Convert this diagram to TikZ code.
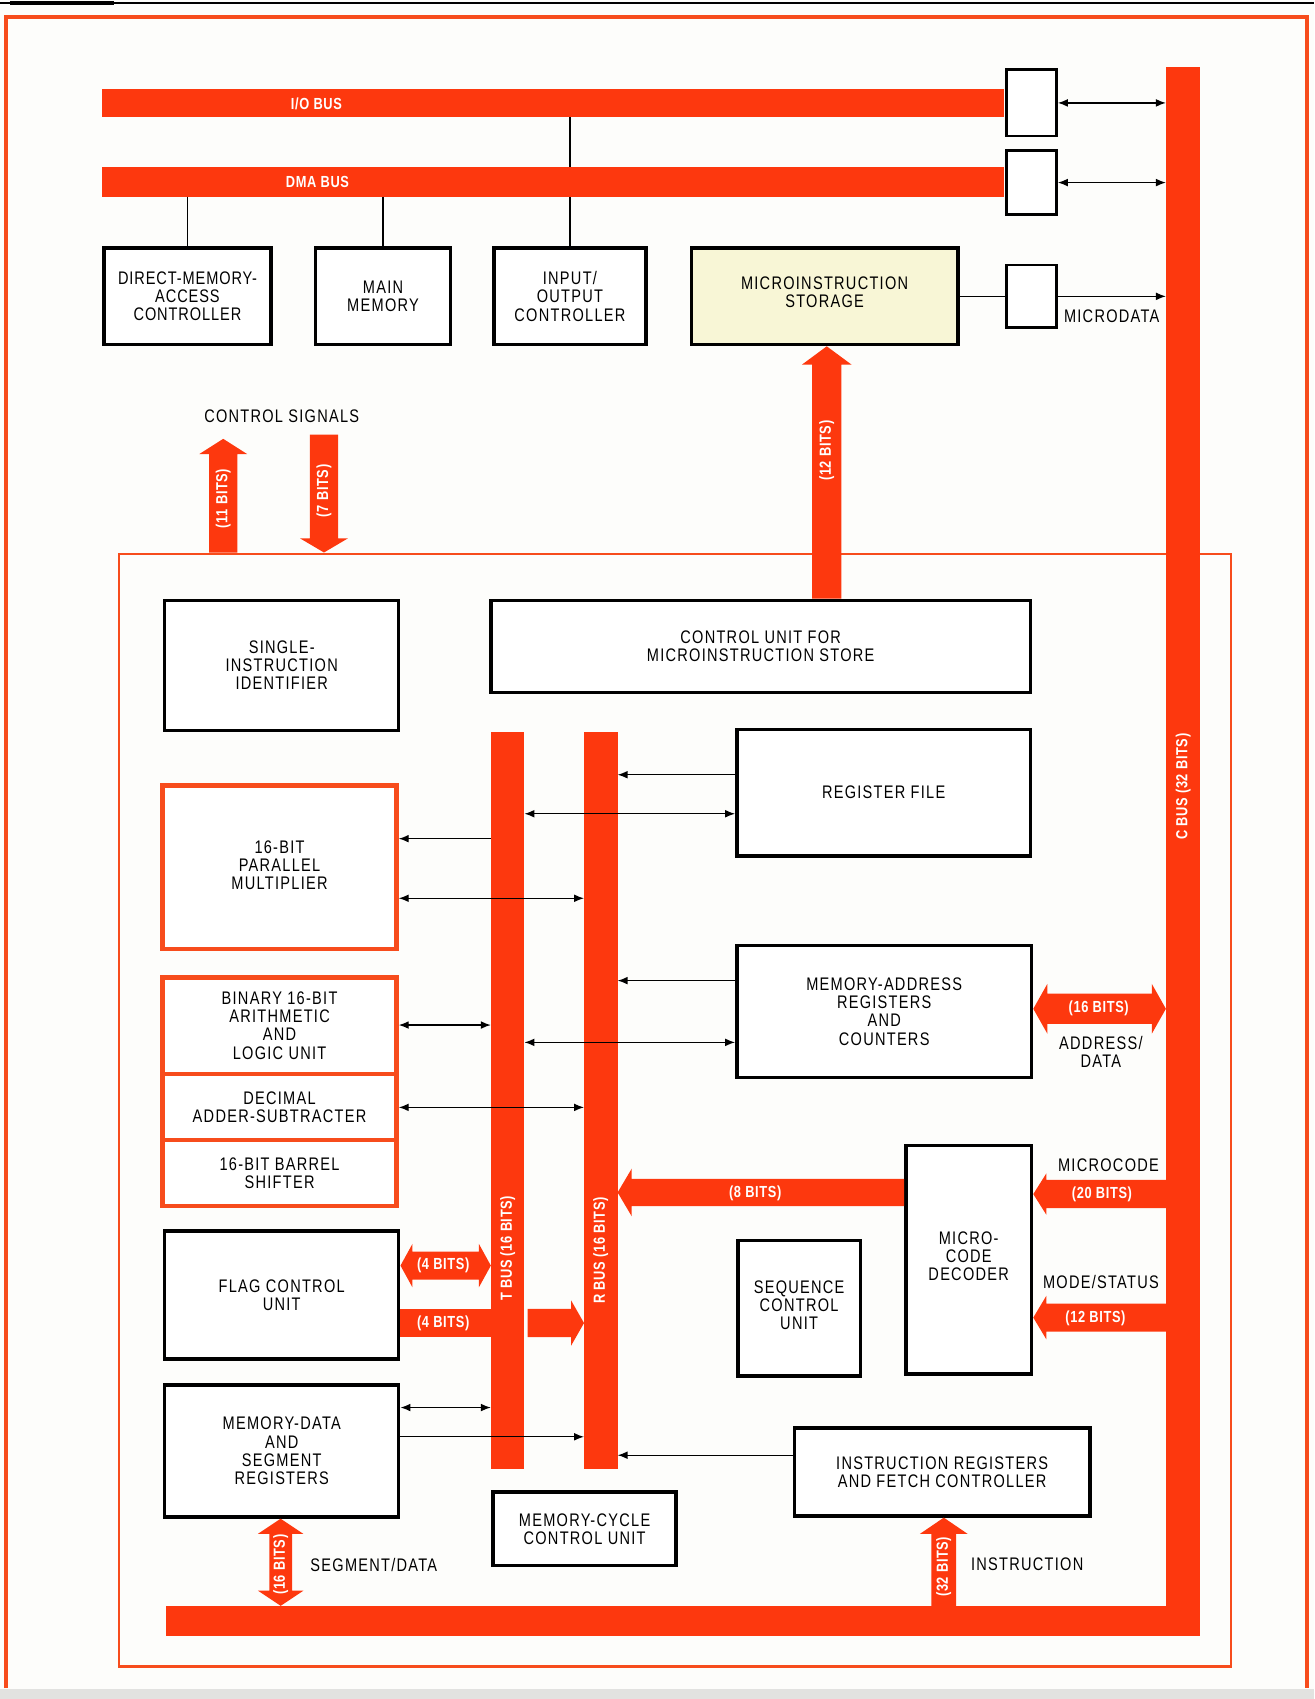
\documentclass[tikz,border=0pt]{standalone}
\usepackage{fontspec}
\setmainfont{Liberation Sans}[FakeStretch=0.8,LetterSpace=7]
\newfontfamily\labelfam{Liberation Sans}[FakeStretch=0.8,LetterSpace=4]
\usetikzlibrary{calc,arrows.meta}
\pgfdeclarelayer{paperlayer}
\pgfdeclarelayer{underlayer}
\pgfsetlayers{paperlayer,underlayer,main}

\definecolor{busred}{RGB}{253,56,14}
\definecolor{framered}{RGB}{247,76,28}
\definecolor{storefill}{RGB}{248,246,214}
\definecolor{paper}{RGB}{253,253,251}
\definecolor{edgegray}{RGB}{226,226,224}

\newcommand{\boxfont}{\fontsize{8.4}{8.4}\selectfont}
\newcommand{\lblfont}{\labelfam\bfseries\fontsize{7.4}{7.4}\selectfont}

% wide bus arrows, all sizes in picture units
% #1 start, #2 tip, #3 shaft half width, #4 head half width, #5 head length (sign gives direction)
\newcommand{\fatarrowH}[5]{\fill[busred] (#2) -- ($(#2)+(#5,-#4)$) -- ($(#2)+(#5,-#3)$) -- ($(#1)+(0,-#3)$) -- ($(#1)+(0,#3)$) -- ($(#2)+(#5,#3)$) -- ($(#2)+(#5,#4)$) -- cycle;}
\newcommand{\fatarrowV}[5]{\fill[busred] (#2) -- ($(#2)+(-#4,#5)$) -- ($(#2)+(-#3,#5)$) -- ($(#1)+(-#3,0)$) -- ($(#1)+(#3,0)$) -- ($(#2)+(#3,#5)$) -- ($(#2)+(#4,#5)$) -- cycle;}
% double-headed: #1 left/top tip, #2 right/bottom tip
\newcommand{\fatdoubleH}[5]{\fill[busred] (#1) -- ($(#1)+(#5,-#4)$) -- ($(#1)+(#5,-#3)$) -- ($(#2)+(-#5,-#3)$) -- ($(#2)+(-#5,-#4)$) -- (#2) -- ($(#2)+(-#5,#4)$) -- ($(#2)+(-#5,#3)$) -- ($(#1)+(#5,#3)$) -- ($(#1)+(#5,#4)$) -- cycle;}
\newcommand{\fatdoubleV}[5]{\fill[busred] (#1) -- ($(#1)+(-#4,#5)$) -- ($(#1)+(-#3,#5)$) -- ($(#2)+(-#3,-#5)$) -- ($(#2)+(-#4,-#5)$) -- (#2) -- ($(#2)+(#4,-#5)$) -- ($(#2)+(#3,-#5)$) -- ($(#1)+(#3,#5)$) -- ($(#1)+(#4,#5)$) -- cycle;}

\tikzset{tipa/.tip={Latex[length=4.6pt,width=3.6pt]}}

\begin{document}
\begin{tikzpicture}[x=0.5pt,y=-0.5pt,
  blk/.style={draw=black,line width=1.6pt,fill=white,align=center,inner sep=0pt,font=\boxfont},
  smallblk/.style={blk,line width=1.3pt},
  redbox/.style={blk,draw=framered,line width=2pt},
  bar/.style={fill=busred,inner sep=0pt,outer sep=0pt},
  wire/.style={line width=0.6pt,draw=black},
  lbl/.style={text=white,font=\lblfont,inner sep=0pt},
  note/.style={font=\boxfont,inner sep=0pt,align=center}]

\begin{pgfonlayer}{paperlayer}
  \fill[paper] (0,0) rectangle (1213,1568);
\end{pgfonlayer}
\useasboundingbox (0,0) rectangle (1213,1568);

% page rule and outer frame
\draw[line width=1.1pt] (0,3) -- (1213,3);
\draw[line width=1.8pt] (9,3) -- (105,3);
\draw[framered,line width=1.7pt] (5.5,1558) -- (5.5,16) -- (1206.5,16) -- (1206.5,1558);
\fill[edgegray] (0,1559) rectangle (1213,1568);

% processor frame
\node[draw=framered,line width=1.1pt,minimum width=513pt,minimum height=513.5pt,inner sep=0pt] (cpu) at (623,1024.5) {};

% level coordinates
\coordinate (y715) at (0,715);
\coordinate (y751) at (0,751);
\coordinate (y774) at (0,774);
\coordinate (y829) at (0,829);
\coordinate (y905) at (0,905);
\coordinate (y931) at (0,931);
\coordinate (y946) at (0,946);
\coordinate (y962) at (0,962);
\coordinate (y1022) at (0,1022);
\coordinate (y1100) at (0,1100.5);
\coordinate (y1102) at (0,1102);
\coordinate (y1168) at (0,1168);
\coordinate (y1216) at (0,1216);
\coordinate (y1221) at (0,1221);
\coordinate (y1299) at (0,1299);
\coordinate (y1326) at (0,1326);
\coordinate (y1343) at (0,1343);
\coordinate (x259) at (259,0);
\coordinate (x763) at (763,0);
\coordinate (x871) at (871,0);
\coordinate (sig11) at (206,405);
\coordinate (sig7) at (299,401);

% buses
\node[bar,minimum width=416.5pt,minimum height=13pt] (iobus) at (510.5,95) {};
\node[bar,minimum width=416.5pt,minimum height=13.5pt] (dmabus) at (510.5,168) {};
\node[bar,minimum width=15.5pt,minimum height=724pt] (cbus) at (1091.5,786) {};
\node[bar,minimum width=477pt,minimum height=14pt] (botbus) at (630,1496) {};
\node[bar,minimum width=15.5pt,minimum height=340pt] (tbus) at (468.5,1016) {};
\node[bar,minimum width=15.5pt,minimum height=340pt] (rbus) at (554.5,1016) {};

% blocks
\node[blk,minimum width=77pt,minimum height=44.5pt,font=\boxfont\addfontfeature{LetterSpace=5}] (dmac) at (173,273.5) {DIRECT-MEMORY-\\ACCESS\\CONTROLLER};
\node[blk,minimum width=62.5pt,minimum height=44.5pt] (mainmem) at (353.5,273.5) {MAIN\\MEMORY};
\node[blk,minimum width=70pt,minimum height=44.5pt] (ioc) at (526,273.5) {INPUT/\\OUTPUT\\CONTROLLER};
\node[blk,fill=storefill,minimum width=123pt,minimum height=44.5pt] (mstore) at (761,273.5) {MICROINSTRUCTION\\STORAGE\\[-4.4pt]};
\node[smallblk,minimum width=23pt,minimum height=30.5pt] (g1) at (952,95) {};
\node[smallblk,minimum width=23pt,minimum height=29.5pt] (g2) at (952,168.5) {};
\node[smallblk,minimum width=23pt,minimum height=29pt] (g3) at (952,273.5) {};

% wide arrows
\coordinate (a11s) at (cpu.north -| sig11);
\fatarrowV{a11s}{sig11}{13}{22}{14}
\coordinate (a7t) at (cpu.north -| sig7);
\fatarrowV{sig7}{a7t}{13}{22}{-13}

\node[blk,minimum width=108pt,minimum height=60pt] (single) at (260,614) {SINGLE-\\INSTRUCTION\\IDENTIFIER};
\node[blk,minimum width=249pt,minimum height=42.5pt] (ctrlu) at (702,596.5) {CONTROL UNIT FOR\\MICROINSTRUCTION STORE};
\node[blk,minimum width=135.5pt,minimum height=58.5pt] (regfile) at (815.5,731.5) {REGISTER FILE};
\node[redbox,minimum width=108pt,minimum height=75.5pt] (mult) at (258,800.5) {16-BIT\\PARALLEL\\MULTIPLIER\\[-6.4pt]};
\node[blk,minimum width=136pt,minimum height=61pt] (mar) at (816,933.5) {MEMORY-ADDRESS\\REGISTERS\\AND\\COUNTERS};
\node[redbox,minimum width=108pt,minimum height=44.5pt] (alu) at (258,946.5) {BINARY 16-BIT\\ARITHMETIC\\AND\\LOGIC UNIT};
\node[redbox,minimum width=108pt,minimum height=30.5pt] (dec) at (258,1021.5) {DECIMAL\\ADDER-SUBTRACTER};
\node[redbox,minimum width=108pt,minimum height=30.5pt] (shift) at (258,1082.5) {16-BIT BARREL\\SHIFTER};
\node[blk,minimum width=58pt,minimum height=105.5pt] (decoder) at (894,1162.5) {MICRO-\\CODE\\DECODER\\[-5.4pt]};
\node[blk,minimum width=56.5pt,minimum height=62.5pt] (seq) at (737.5,1207.5) {SEQUENCE\\CONTROL\\UNIT\\[-5.4pt]};
\node[blk,minimum width=108pt,minimum height=59pt] (flag) at (260,1195) {FLAG CONTROL\\UNIT};
\node[blk,minimum width=108pt,minimum height=61pt] (mdata) at (260,1339) {MEMORY-DATA\\AND\\SEGMENT\\REGISTERS};
\node[blk,minimum width=84.5pt,minimum height=34pt] (mcycle) at (539.5,1411) {MEMORY-CYCLE\\CONTROL UNIT};
\node[blk,minimum width=136.5pt,minimum height=40.5pt] (ifetch) at (869.5,1358.5) {INSTRUCTION REGISTERS\\AND FETCH CONTROLLER};

% wide arrows between blocks and buses
\coordinate (a12s) at (ctrlu.north -| x763);
\coordinate (a12t) at (mstore.south -| x763);
\fatarrowV{a12s}{a12t}{13.5}{23}{17}
\coordinate (m16a) at (mar.east |- y931);
\coordinate (m16b) at (cbus.west |- y931);
\fatdoubleH{m16a}{m16b}{14}{23}{13}
\coordinate (b8s) at (decoder.west |- y1100);
\coordinate (b8t) at (rbus.east |- y1100);
\fatarrowH{b8s}{b8t}{12.5}{22}{13}
\coordinate (b20s) at (cbus.west |- y1102);
\coordinate (b20t) at (decoder.east |- y1102);
\fatarrowH{b20s}{b20t}{13}{19}{12}
\coordinate (b12s) at (cbus.west |- y1216);
\coordinate (b12t) at (decoder.east |- y1216);
\fatarrowH{b12s}{b12t}{13}{20}{12}
\coordinate (f4a) at (flag.east |- y1168);
\coordinate (f4b) at (tbus.west |- y1168);
\fatdoubleH{f4a}{f4b}{13}{20}{11}
\coordinate (f4c) at (flag.east |- y1221);
\coordinate (f4d) at (tbus.west |- y1221);
\fill[busred] ($(f4c)+(0,-13)$) rectangle ($(f4d)+(0,13)$);
\coordinate (f4e) at ($(tbus.east |- y1221)+(3,0)$);
\coordinate (f4f) at (rbus.west |- y1221);
\fatarrowH{f4e}{f4f}{13}{21}{-12}
\coordinate (s16a) at (mdata.south -| x259);
\coordinate (s16b) at (botbus.north -| x259);
\fatdoubleV{s16a}{s16b}{10.5}{21}{14}
\coordinate (i32s) at (botbus.north -| x871);
\coordinate (i32t) at (ifetch.south -| x871);
\fatarrowV{i32s}{i32t}{11.5}{22}{15}

% thin connections
\begin{pgfonlayer}{underlayer}
  \draw[wire] (iobus.south -| ioc.north) -- (ioc.north);
\end{pgfonlayer}
\draw[wire] (dmabus.south -| dmac.north) -- (dmac.north);
\draw[wire] (dmabus.south -| mainmem.north) -- (mainmem.north);
\draw[wire,tipa-tipa] (g1.east) -- (g1.east -| cbus.west);
\draw[wire,tipa-tipa] (g2.east) -- (g2.east -| cbus.west);
\draw[wire] (mstore.east) -- (g3.west);
\draw[wire,-tipa] (g3.east) -- (g3.east -| cbus.west);
\draw[wire,-tipa] (regfile.west |- y715) -- (rbus.east |- y715);
\draw[wire,tipa-tipa] (tbus.east |- y751) -- (regfile.west |- y751);
\draw[wire,-tipa] (tbus.west |- y774) -- (mult.east |- y774);
\draw[wire,tipa-tipa] (mult.east |- y829) -- (rbus.west |- y829);
\draw[wire,tipa-tipa] (alu.east |- y946) -- (tbus.west |- y946);
\draw[wire,-tipa] (mar.west |- y905) -- (rbus.east |- y905);
\draw[wire,tipa-tipa] (tbus.east |- y962) -- (mar.west |- y962);
\draw[wire,tipa-tipa] (dec.east |- y1022) -- (rbus.west |- y1022);
\draw[wire,tipa-tipa] (mdata.east |- y1299) -- (tbus.west |- y1299);
\draw[wire,-tipa] (mdata.east |- y1326) -- (rbus.west |- y1326);
\draw[wire,-tipa] (ifetch.west |- y1343) -- (rbus.east |- y1343);

% bus and width labels
\node[lbl] (lio) at (292,96) {I/O BUS};
\node[lbl] (ldma) at (293,168) {DMA BUS};
\node[lbl,rotate=90] (lc) at (1092,726) {C BUS (32 BITS)};
\node[lbl,rotate=90] (lt) at (468.5,1152) {T BUS (16 BITS)};
\node[lbl,rotate=90] (lr) at (554.5,1154) {R BUS (16 BITS)};
\node[lbl,rotate=90] (l11) at (206,460) {(11 BITS)};
\node[lbl,rotate=90] (l7) at (299,453) {(7 BITS)};
\node[lbl,rotate=90] (l12a) at (763,416) {(12 BITS)};
\node[lbl] (l16a) at (1014,931) {(16 BITS)};
\node[lbl] (l8) at (697,1101) {(8 BITS)};
\node[lbl] (l20) at (1017,1102) {(20 BITS)};
\node[lbl] (l12b) at (1011,1217) {(12 BITS)};
\node[lbl] (l4a) at (409,1168) {(4 BITS)};
\node[lbl] (l4b) at (409,1221) {(4 BITS)};
\node[lbl,rotate=90] (l16b) at (259,1444) {(16 BITS)};
\node[lbl,rotate=90] (l32) at (871,1446) {(32 BITS)};

% plain captions
\node[note] (tsig) at (260,384) {CONTROL SIGNALS};
\node[note] (tmdata) at (1026,292) {MICRODATA};
\node[note] (taddr) at (1016,971) {ADDRESS/\\DATA};
\node[note] (tmcode) at (1023,1075) {MICROCODE};
\node[note] (tmode) at (1016,1183) {MODE/STATUS};
\node[note] (tseg) at (345,1444) {SEGMENT/DATA};
\node[note] (tins) at (948,1444) {INSTRUCTION};
\end{tikzpicture}
\end{document}
